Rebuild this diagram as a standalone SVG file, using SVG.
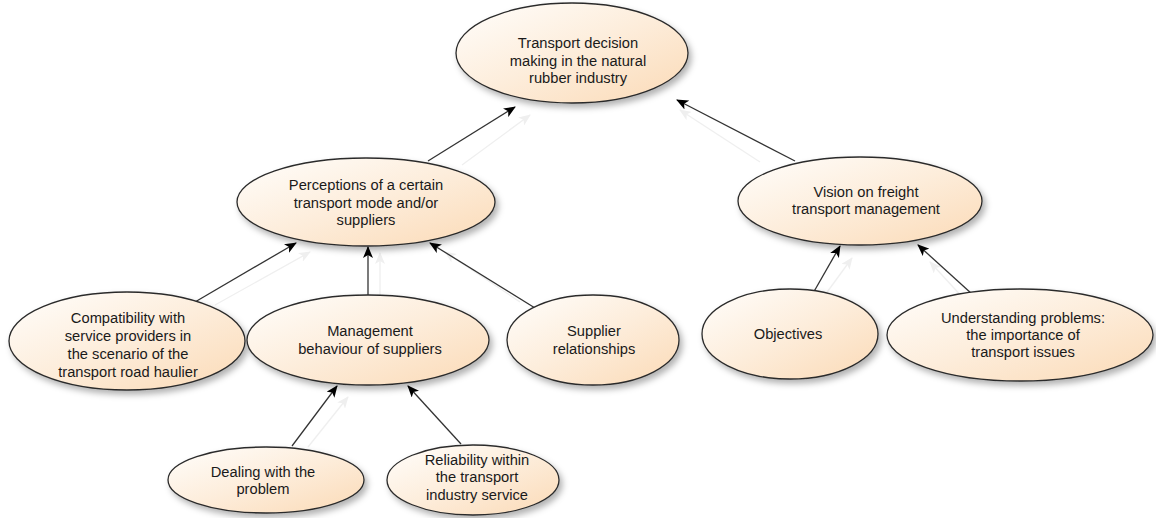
<svg xmlns="http://www.w3.org/2000/svg" width="1156" height="518" viewBox="0 0 1156 518">
<style>
.node ellipse{fill:url(#g);stroke:#2b2b2b;stroke-width:1.3;filter:url(#sh)}
.node text{font-family:"Liberation Sans",Arial,sans-serif;font-size:14.7px;fill:#1a1a1a;text-anchor:middle}
.edge{stroke:#333;stroke-width:1.3;fill:none;marker-end:url(#ah)}
.ghost{stroke:#efefef;stroke-width:1.3;fill:none;marker-end:url(#gh)}
</style>
<defs>
<linearGradient id="g" x1="0" y1="0" x2="1" y2="1">
<stop offset="0" stop-color="#fffefc"/>
<stop offset="0.5" stop-color="#fdeddb"/>
<stop offset="1" stop-color="#fbdab6"/>
</linearGradient>
<filter id="sh" x="-20%" y="-20%" width="140%" height="150%">
<feDropShadow dx="3" dy="4" stdDeviation="3" flood-color="#000" flood-opacity="0.3"/>
</filter>
<marker id="ah" viewBox="0 0 12 10" refX="11" refY="5" markerWidth="12" markerHeight="10" markerUnits="userSpaceOnUse" orient="auto">
<path d="M0,0 L12,5 L0,10 L3,5 Z" fill="#000"/>
</marker>
<marker id="gh" viewBox="0 0 12 10" refX="11" refY="5" markerWidth="12" markerHeight="10" markerUnits="userSpaceOnUse" orient="auto">
<path d="M0,0 L12,5 L0,10 L3,5 Z" fill="#efefef"/>
</marker>
</defs>
<g id="connectors">
<line class="ghost" x1="462" y1="165" x2="530" y2="115"/>
<line class="edge" x1="428" y1="161" x2="515" y2="107"/>
<line class="ghost" x1="760" y1="162" x2="680" y2="110"/>
<line class="edge" x1="795" y1="161" x2="677" y2="100"/>
<line class="ghost" x1="215" y1="305" x2="310" y2="252"/>
<line class="edge" x1="195" y1="302" x2="296" y2="243"/>
<line class="ghost" x1="380" y1="296" x2="380" y2="253"/>
<line class="edge" x1="368" y1="296" x2="368" y2="247"/>
<line class="ghost" x1="520" y1="302" x2="445" y2="252"/>
<line class="edge" x1="535" y1="308" x2="430" y2="243"/>
<line class="ghost" x1="825" y1="295" x2="852" y2="258"/>
<line class="edge" x1="812" y1="295" x2="840" y2="246"/>
<line class="ghost" x1="965" y1="300" x2="930" y2="262"/>
<line class="edge" x1="972" y1="294" x2="918" y2="245"/>
<line class="ghost" x1="308" y1="447" x2="348" y2="397"/>
<line class="edge" x1="292" y1="446" x2="337" y2="386"/>
<line class="edge" x1="461" y1="444" x2="408" y2="386"/>
</g>
<g id="n-top" class="node">
<ellipse cx="572" cy="53" rx="116" ry="50"/>
<text x="578" y="48">Transport decision</text>
<text x="578" y="66">making in the natural</text>
<text x="578" y="83">rubber industry</text>
</g>
<g id="n-perceptions" class="node">
<ellipse cx="366" cy="202" rx="129" ry="44"/>
<text x="366" y="190">Perceptions of a certain</text>
<text x="366" y="208">transport mode and/or</text>
<text x="366" y="225">suppliers</text>
</g>
<g id="n-vision" class="node">
<ellipse cx="860" cy="201" rx="122" ry="44"/>
<text x="866" y="197">Vision on freight</text>
<text x="866" y="214">transport management</text>
</g>
<g id="n-compat" class="node">
<ellipse cx="127" cy="341" rx="118" ry="49"/>
<text x="128" y="323">Compatibility with</text>
<text x="128" y="341">service providers in</text>
<text x="128" y="359">the scenario of the</text>
<text x="128" y="377">transport road haulier</text>
</g>
<g id="n-mgmt" class="node">
<ellipse cx="368" cy="340" rx="121" ry="45"/>
<text x="370" y="336">Management</text>
<text x="370" y="354">behaviour of suppliers</text>
</g>
<g id="n-supplier" class="node">
<ellipse cx="593" cy="340" rx="86" ry="45"/>
<text x="594" y="336">Supplier</text>
<text x="594" y="354">relationships</text>
</g>
<g id="n-objectives" class="node">
<ellipse cx="790" cy="334" rx="88" ry="45"/>
<text x="788" y="339">Objectives</text>
</g>
<g id="n-understanding" class="node">
<ellipse cx="1020" cy="335" rx="133" ry="46"/>
<text x="1023" y="323">Understanding problems:</text>
<text x="1023" y="340">the importance of</text>
<text x="1023" y="357">transport issues</text>
</g>
<g id="n-dealing" class="node">
<ellipse cx="266" cy="480" rx="98" ry="33"/>
<text x="263" y="477">Dealing with the</text>
<text x="263" y="494">problem</text>
</g>
<g id="n-reliability" class="node">
<ellipse cx="473" cy="480" rx="86" ry="35"/>
<text x="477" y="465">Reliability within</text>
<text x="477" y="482">the transport</text>
<text x="477" y="500">industry service</text>
</g>
</svg>
